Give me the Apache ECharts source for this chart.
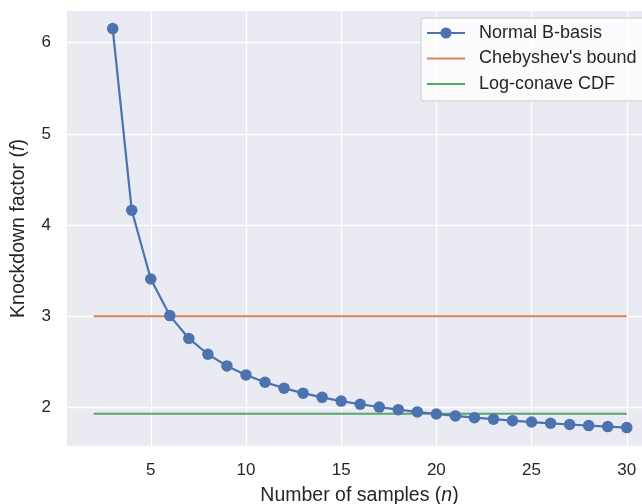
<!DOCTYPE html>
<html>
<head>
<meta charset="utf-8">
<script src="https://cdn.jsdelivr.net/npm/echarts@6/dist/echarts.min.js"></script>
<style>
  html, body { margin: 0; padding: 0; background: #fff; }
  #chart { width: 642px; height: 504px; }
</style>
</head>
<body>
<div id="chart"></div>
<script>
// sample sizes and B-basis knockdown factors
const nSamples = [3, 4, 5, 6, 7, 8, 9, 10, 11, 12, 13, 14, 15, 16, 17, 18, 19, 20, 21, 22, 23, 24, 25, 26, 27, 28, 29, 30];
const normalBBasis = [6.155, 4.162, 3.407, 3.006, 2.755, 2.582, 2.454, 2.355, 2.275, 2.210, 2.155, 2.109, 2.068, 2.033, 2.002, 1.974, 1.949, 1.926, 1.905, 1.886, 1.869, 1.853, 1.838, 1.824, 1.811, 1.799, 1.788, 1.777];
const boundRange = [2, 30];
const chebyshevBound = 3.0;
const logConcaveBound = 1.93;
const xTicks = [5, 10, 15, 20, 25, 30];
const yTicks = [2, 3, 4, 5, 6];

const font = '"Liberation Sans", Arial, sans-serif';
const textColor = '#262626';
const lineIcon = 'path://M0,0 L38,0 L38,2 L0,2 Z';
const titleRich = {
  a: { fontSize: 19.5, color: textColor, fontFamily: font },
  i: { fontSize: 19.5, color: textColor, fontFamily: font, fontStyle: 'italic' },
};

const chart = echarts.init(document.getElementById('chart'));
chart.setOption({
  animation: false,
  textStyle: { fontFamily: font },
  grid: {
    left: 67,
    top: 11,
    right: 0,
    bottom: 58,
    outerBoundsMode: 'none',
    containLabel: false,
    show: true,
    backgroundColor: '#EAEAF2',
    borderWidth: 0,
  },
  legend: {
    orient: 'vertical',
    left: 421,
    top: 18,
    padding: [6, 40, 8, 5],
    itemGap: 7.5,
    itemWidth: 38,
    itemHeight: 14,
    backgroundColor: 'rgba(255,255,255,0.8)',
    borderColor: '#cccccc',
    borderWidth: 1,
    borderRadius: 3,
    textStyle: { fontSize: 18, color: textColor, fontFamily: font, padding: [0, 0, 0, 9] },
    data: [
      { name: 'Normal B-basis' },
      { name: "Chebyshev's bound", icon: lineIcon },
      { name: 'Log-conave CDF', icon: lineIcon },
    ],
  },
  xAxis: {
    type: 'value',
    min: 0.6,
    max: 30.8,
    name: '{a|Number of samples (}{i|n}{a|)}',
    nameLocation: 'middle',
    nameGap: 40,
    nameTextStyle: { rich: titleRich, padding: [0, 0, 0, 10] },
    axisLine: { show: false },
    axisTick: { show: false, customValues: xTicks },
    axisLabel: { customValues: xTicks, fontSize: 17, color: textColor, margin: 16 },
    splitLine: { show: true, lineStyle: { color: '#ffffff', width: 1.3 } },
  },
  yAxis: {
    type: 'value',
    min: 1.575,
    max: 6.348,
    name: '{a|Knockdown factor (}{i|f}{a|)}',
    nameLocation: 'middle',
    nameGap: 38,
    nameTextStyle: { rich: titleRich },
    axisLine: { show: false },
    axisTick: { show: false, customValues: yTicks },
    axisLabel: { customValues: yTicks, fontSize: 17, color: textColor, margin: 16 },
    splitLine: { show: true, lineStyle: { color: '#ffffff', width: 1.3 } },
  },
  series: [
    {
      name: 'Normal B-basis',
      type: 'line',
      data: nSamples.map((n, i) => [n, normalBBasis[i]]),
      symbol: 'circle',
      symbolSize: 11.5,
      color: '#4C72B0',
      lineStyle: { width: 2.2, color: '#4C72B0' },
      itemStyle: { color: '#4C72B0' },
      z: 3,
    },
    {
      name: "Chebyshev's bound",
      type: 'line',
      data: boundRange.map(n => [n, chebyshevBound]),
      showSymbol: false,
      symbol: 'none',
      color: '#DD8452',
      lineStyle: { width: 2, color: '#DD8452' },
      itemStyle: { color: '#DD8452' },
      z: 2,
    },
    {
      name: 'Log-conave CDF',
      type: 'line',
      data: boundRange.map(n => [n, logConcaveBound]),
      showSymbol: false,
      symbol: 'none',
      color: '#55A868',
      lineStyle: { width: 2, color: '#55A868' },
      itemStyle: { color: '#55A868' },
      z: 2,
    },
  ],
});
</script>
</body>
</html>
